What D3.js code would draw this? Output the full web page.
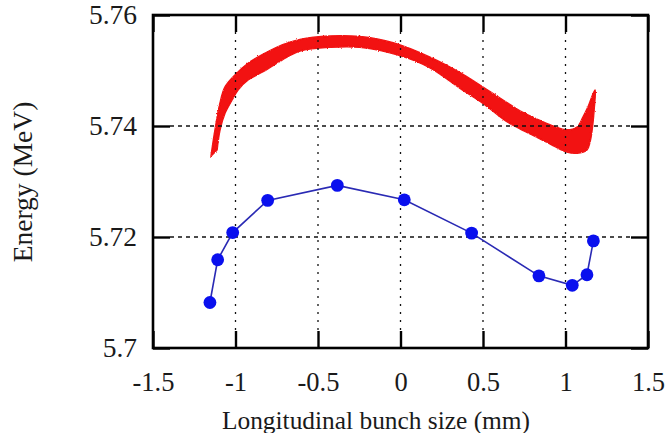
<!DOCTYPE html>
<html>
<head>
<meta charset="utf-8">
<script src="https://cdn.jsdelivr.net/npm/d3@7"></script>
<style>
  html, body { margin: 0; padding: 0; background: #fff; }
  svg { display: block; }
  text { font-family: "Liberation Serif", "Times New Roman", serif; }
</style>
</head>
<body>
<svg id="chart" width="669" height="433"></svg>
<script>
// Axis ticks
const xTicks = [-1.5, -1, -0.5, 0, 0.5, 1, 1.5];
const yTicks = [5.70, 5.72, 5.74, 5.76];
const yTickLabels = ["5.7", "5.72", "5.74", "5.76"];
const xTickLabels = ["-1.5", "-1", "-0.5", "0", "0.5", "1", "1.5"];

// Simulated bunch: upper envelope of the particle cloud (left to right)
const bandUpper = [
  [-1.148, 5.7346], [-1.124, 5.7393], [-1.094, 5.7441], [-1.064, 5.7470],
  [-1.003, 5.7492], [-0.924, 5.7513], [-0.821, 5.7531], [-0.718, 5.7546],
  [-0.609, 5.7556], [-0.427, 5.7562], [-0.245, 5.7561], [-0.045, 5.7550],
  [0.179, 5.7524], [0.361, 5.7496], [0.500, 5.7470], [0.640, 5.7443],
  [0.724, 5.7427], [0.845, 5.7410], [0.924, 5.7400], [1.009, 5.7393],
  [1.070, 5.7398], [1.106, 5.7416], [1.136, 5.7434], [1.179, 5.7465]
];
// Lower envelope of the particle cloud (right to left)
const bandLower = [
  [1.173, 5.7429], [1.161, 5.7393], [1.148, 5.7371], [1.130, 5.7357],
  [1.070, 5.7351], [1.009, 5.7353], [0.924, 5.7365], [0.845, 5.7377],
  [0.724, 5.7395], [0.640, 5.7409], [0.500, 5.7441], [0.361, 5.7468],
  [0.179, 5.7505], [-0.003, 5.7527], [-0.245, 5.7542], [-0.427, 5.7542],
  [-0.609, 5.7535], [-0.718, 5.7519], [-0.839, 5.7497], [-0.924, 5.7483],
  [-0.985, 5.7465], [-1.021, 5.7447], [-1.064, 5.7423], [-1.094, 5.7393],
  [-1.112, 5.7357]
];

// Slice-averaged energy along the bunch
const sliceX = [-1.155, -1.108, -1.017, -0.805, -0.383, 0.023, 0.431, 0.839, 1.041, 1.130, 1.169];
const sliceE = [5.7082, 5.7159, 5.7208, 5.7266, 5.7293, 5.7267, 5.7207, 5.7130, 5.7113, 5.7132, 5.7193];

const svg = d3.select("#chart");
const W = 669, H = 433;
const margin = { left: 153, right: 21, top: 15, bottom: 85 };
const iw = W - margin.left - margin.right;
const ih = H - margin.top - margin.bottom;

const x = d3.scaleLinear().domain([-1.5, 1.5]).range([margin.left, margin.left + iw]);
const y = d3.scaleLinear().domain([5.70, 5.76]).range([margin.top + ih, margin.top]);

const tickLen = 17;

// Rough outline for the particle cloud edge
const defs = svg.append("defs");
const f = defs.append("filter").attr("id", "grain")
  .attr("x", "-5%").attr("y", "-10%").attr("width", "110%").attr("height", "120%");
f.append("feTurbulence").attr("type", "fractalNoise").attr("baseFrequency", 1.2)
  .attr("numOctaves", 2).attr("seed", 3).attr("result", "n");
f.append("feDisplacementMap").attr("in", "SourceGraphic").attr("in2", "n")
  .attr("scale", 2.2).attr("xChannelSelector", "R").attr("yChannelSelector", "G");

// Particle cloud
const bandPts = bandUpper.concat(bandLower);
const bandLine = d3.line().x(d => x(d[0])).y(d => y(d[1])).curve(d3.curveCatmullRom.alpha(0.5));
const bandD = bandLine(bandPts) + "Z";
svg.append("path").attr("d", bandD).attr("fill", "#f21212");
svg.append("path").attr("d", bandD)
  .attr("fill", "none").attr("stroke", "#f21212").attr("stroke-width", 1.6)
  .attr("filter", "url(#grain)");

// Dotted grid, drawn between the inward ticks
const gx = [-1, -0.5, 0, 0.5, 1];
const gy = [5.72, 5.74];
svg.append("g").selectAll("line").data(gx).join("line")
  .attr("x1", d => x(d)).attr("x2", d => x(d))
  .attr("y1", margin.top + tickLen).attr("y2", margin.top + ih - tickLen)
  .attr("stroke", "#111").attr("stroke-width", 1.3)
  .attr("stroke-dasharray", "2,6");
svg.append("g").selectAll("line").data(gy).join("line")
  .attr("x1", margin.left + tickLen).attr("x2", margin.left + iw - tickLen)
  .attr("y1", d => y(d)).attr("y2", d => y(d))
  .attr("stroke", "#111").attr("stroke-width", 1.3)
  .attr("stroke-dasharray", "4,4");

// Slice-averaged series
const pts = sliceX.map((v, i) => [v, sliceE[i]]);
svg.append("path")
  .attr("d", d3.line().x(d => x(d[0])).y(d => y(d[1]))(pts))
  .attr("fill", "none").attr("stroke", "#2a2ab4").attr("stroke-width", 1.6);
svg.append("g").selectAll("circle").data(pts).join("circle")
  .attr("cx", d => x(d[0])).attr("cy", d => y(d[1])).attr("r", 6.4)
  .attr("fill", "#0a10ee");

// Axes: inward ticks on all four sides
const axB = d3.axisBottom(x).tickValues(xTicks).tickSizeInner(-tickLen).tickSizeOuter(0)
  .tickFormat((d, i) => xTickLabels[i]).tickPadding(24);
const axT = d3.axisTop(x).tickValues(xTicks).tickSizeInner(-tickLen).tickSizeOuter(0).tickFormat("");
const axL = d3.axisLeft(y).tickValues(yTicks).tickSizeInner(-tickLen).tickSizeOuter(0)
  .tickFormat((d, i) => yTickLabels[i]).tickPadding(16);
const axR = d3.axisRight(y).tickValues(yTicks).tickSizeInner(-tickLen).tickSizeOuter(0).tickFormat("");

function style(size) {
  return g => {
    g.attr("font-family", null);
    g.select(".domain").remove();
    g.selectAll(".tick line").attr("stroke", "#000").attr("stroke-width", 2.4);
    g.selectAll(".tick text").attr("fill", "#1a1a1a").attr("font-size", size);
  };
}
svg.append("g").attr("transform", `translate(0,${margin.top + ih})`).call(axB).call(style(26.5));
svg.append("g").attr("transform", `translate(0,${margin.top})`).call(axT).call(style(26.5));
svg.append("g").attr("transform", `translate(${margin.left},0)`).call(axL).call(style(27.5));
svg.append("g").attr("transform", `translate(${margin.left + iw},0)`).call(axR).call(style(27.5));

// Frame
svg.append("rect")
  .attr("x", margin.left).attr("y", margin.top).attr("width", iw).attr("height", ih)
  .attr("fill", "none").attr("stroke", "#000").attr("stroke-width", 2.6);

// Axis titles
svg.append("text")
  .attr("x", 376).attr("y", 429)
  .attr("text-anchor", "middle").attr("font-size", 25.4).attr("fill", "#1a1a1a")
  .text("Longitudinal bunch size (mm)");
svg.append("text")
  .attr("transform", "translate(32,182) rotate(-90)")
  .attr("text-anchor", "middle").attr("font-size", 27.5).attr("fill", "#1a1a1a")
  .text("Energy (MeV)");
</script>
</body>
</html>
